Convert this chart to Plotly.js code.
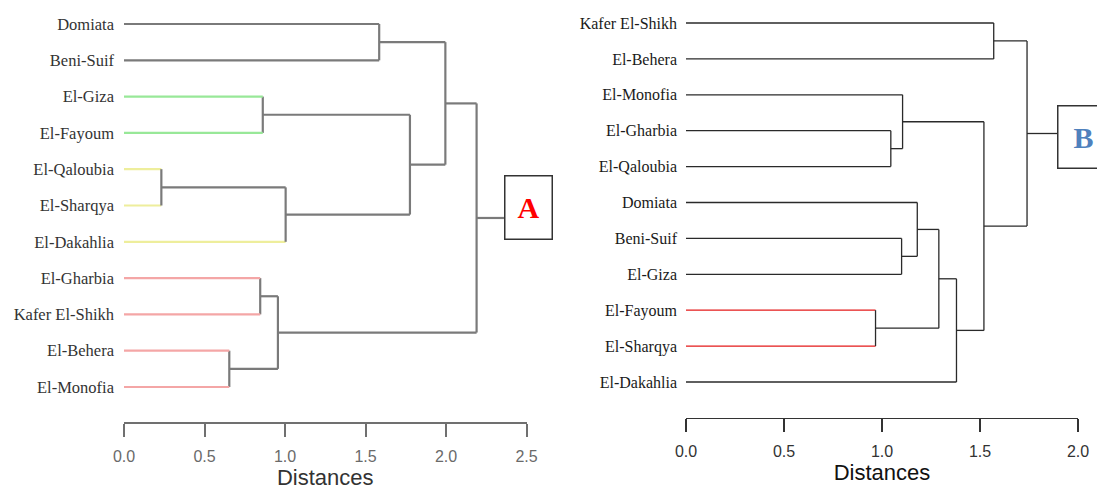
<!DOCTYPE html>
<html>
<head>
<meta charset="utf-8">
<script src="https://cdn.plot.ly/plotly-3.0.1.min.js"></script>
<style>html,body{margin:0;padding:0;background:#fff;}#chart{width:1097px;height:490px;}</style>
</head>
<body>
<div id="chart"></div>
<script>
// ---------- DATA ----------
// Dendrogram A (leaf order top -> bottom)
const leavesA = ["Domiata","Beni-Suif","El-Giza","El-Fayoum","El-Qaloubia","El-Sharqya","El-Dakahlia","El-Gharbia","Kafer El-Shikh","El-Behera","El-Monofia"];
// hclust-style merges: negative = leaf (1-based), positive = earlier merge (1-based)
const mergeA_left  = [-5, -10, -8, -3, 3, 1, -1, 4, 7, 9];
const mergeA_right = [-6, -11, -9, -4, 2, -7, -2, 6, 8, 5];
const heightsA     = [0.232, 0.654, 0.846, 0.862, 0.956, 1.004, 1.585, 1.776, 1.996, 2.19];

// Dendrogram B
const leavesB = ["Kafer El-Shikh","El-Behera","El-Monofia","El-Gharbia","El-Qaloubia","Domiata","Beni-Suif","El-Giza","El-Fayoum","El-Sharqya","El-Dakahlia"];
const mergeB_left  = [-9, -4, -7, -3, -6, 5, 6, 4, -1, 9];
const mergeB_right = [-10, -5, -8, 2, 3, 1, -11, 7, -2, 8];
const heightsB     = [0.967, 1.045, 1.10, 1.105, 1.18, 1.29, 1.38, 1.52, 1.57, 1.74];

const tickValsA = [0, 0.5, 1.0, 1.5, 2.0, 2.5];
const tickValsB = [0, 0.5, 1.0, 1.5, 2.0];
const tickTextA = ["0.0","0.5","1.0","1.5","2.0","2.5"];
const tickTextB = ["0.0","0.5","1.0","1.5","2.0"];

// ---------- STYLE ----------
const grayA = "#7a7a7a", green = "#98e898", yellow = "#eeee9c", pink = "#f4a6a6";
const leafColorA = [grayA, grayA, green, green, yellow, yellow, yellow, pink, pink, pink, pink];
const blackB = "#2a2a2a", red = "#e41a1a";
const leafColorB = [blackB, blackB, blackB, blackB, blackB, blackB, blackB, blackB, red, red, blackB];

function buildTraces(leaves, ml, mr, hs, leafColors, internalColor, width, xa, ya, rootTo) {
  const nodes = [];
  const segs = {};
  function add(color, x0, y0, x1, y1) {
    if (!segs[color]) segs[color] = {x: [], y: []};
    segs[color].x.push(x0, x1, null);
    segs[color].y.push(y0, y1, null);
  }
  function info(ref) {
    if (ref < 0) { const i = -ref - 1; return {y: i, h: 0, color: leafColors[i]}; }
    const n = nodes[ref - 1]; return {y: n.y, h: n.h, color: internalColor};
  }
  for (let k = 0; k < hs.length; k++) {
    const a = info(ml[k]), b = info(mr[k]), h = hs[k];
    add(a.color, a.h, a.y, h, a.y);
    add(b.color, b.h, b.y, h, b.y);
    add(internalColor, h, a.y, h, b.y);
    nodes.push({y: (a.y + b.y) / 2, h: h});
  }
  const root = nodes[nodes.length - 1];
  add(internalColor, root.h, root.y, rootTo, root.y);
  return {
    traces: Object.keys(segs).map(c => ({
      type: "scatter", mode: "lines", x: segs[c].x, y: segs[c].y,
      xaxis: xa, yaxis: ya, hoverinfo: "skip", showlegend: false,
      line: {color: c, width: width}
    })),
    root: root
  };
}

const A = buildTraces(leavesA, mergeA_left, mergeA_right, heightsA, leafColorA, grayA, 2.2, "x", "y", 2.36);
const B = buildTraces(leavesB, mergeB_left, mergeB_right, heightsB, leafColorB, blackB, 1.3, "x2", "y2", 1.893);

const W = 1097, H = 490;
const idxA = leavesA.map((_, i) => i), idxB = leavesB.map((_, i) => i);

const layout = {
  width: W, height: H,
  margin: {l: 0, r: 0, t: 0, b: 0},
  paper_bgcolor: "#ffffff", plot_bgcolor: "rgba(0,0,0,0)",
  showlegend: false,
  xaxis: {
    domain: [124 / W, 526.5 / W], range: [0, 2.5], anchor: "y",
    showgrid: false, zeroline: false, showline: true, linecolor: "#707070", linewidth: 2,
    ticks: "outside", ticklen: 13, tickwidth: 2, tickcolor: "#707070",
    tickvals: tickValsA, ticktext: tickTextA, ticklabelstandoff: 6,
    tickfont: {family: "Liberation Sans, Arial, sans-serif", size: 16, color: "#6a6a6a"},
    title: {text: "Distances", font: {family: "Liberation Sans, Arial, sans-serif", size: 22, color: "#333"}, standoff: 12}
  },
  yaxis: {
    domain: [(H - 422) / H, 1], range: [(422 - 24) / 36.3, -24 / 36.3], anchor: "x",
    showgrid: false, zeroline: false, showline: false, ticks: "",
    tickvals: idxA, ticktext: leavesA, ticklabelstandoff: 9,
    tickfont: {family: "Liberation Serif, Times New Roman, serif", size: 16.5, color: "#333"}
  },
  xaxis2: {
    domain: [686 / W, 1078 / W], range: [0, 2], anchor: "y2",
    showgrid: false, zeroline: false, showline: true, linecolor: "#333", linewidth: 1.3,
    ticks: "outside", ticklen: 13, tickwidth: 1.3, tickcolor: "#333",
    tickvals: tickValsB, ticktext: tickTextB, ticklabelstandoff: 5,
    tickfont: {family: "Liberation Sans, Arial, sans-serif", size: 16, color: "#333"},
    title: {text: "Distances", font: {family: "Liberation Sans, Arial, sans-serif", size: 22, color: "#111"}, standoff: 6}
  },
  yaxis2: {
    domain: [(H - 418) / H, 1], range: [(418 - 23) / 35.9, -23 / 35.9], anchor: "x2",
    showgrid: false, zeroline: false, showline: false, ticks: "",
    tickvals: idxB, ticktext: leavesB, ticklabelstandoff: 8,
    tickfont: {family: "Liberation Serif, Times New Roman, serif", size: 16, color: "#1a1a1a"}
  },
  annotations: [
    {xref: "x", yref: "y", x: 2.36, y: A.root.y, xanchor: "left", yanchor: "middle", yshift: 10,
     text: "<b>A</b>", showarrow: false, width: 46, height: 62, borderpad: 0,
     bordercolor: "#333", borderwidth: 1.5, bgcolor: "#fff",
     font: {family: "Liberation Serif, Times New Roman, serif", size: 30, color: "#ff0000"}},
    {xref: "x2", yref: "y2", x: 1.893, y: B.root.y, xanchor: "left", yanchor: "middle", yshift: -3,
     text: "<b>B</b>", showarrow: false, width: 50, height: 61, borderpad: 0,
     bordercolor: "#333", borderwidth: 1.5, bgcolor: "#fff",
     font: {family: "Liberation Serif, Times New Roman, serif", size: 30, color: "#4f81bd"}}
  ]
};

Plotly.newPlot("chart", A.traces.concat(B.traces), layout, {displayModeBar: false, staticPlot: true});
</script>
</body>
</html>
